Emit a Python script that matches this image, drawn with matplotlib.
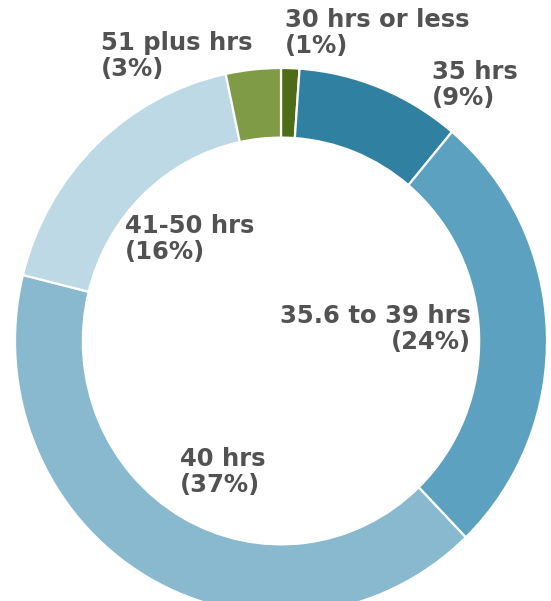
import matplotlib
matplotlib.use("Agg")
import matplotlib.pyplot as plt

# Hours worked per week (shares as printed on the chart)
categories = ["30 hrs or less", "35 hrs", "35.6 to 39 hrs", "40 hrs", "41-50 hrs", "51 plus hrs"]
shares = [1, 9, 24, 37, 16, 3]
colors = ["#4e6c18", "#2f80a1", "#5ca1bf", "#88b9cf", "#bdd9e6", "#7f9b45"]

# label placement in image pixels (x, y of top line) and alignment
label_pos = [(285, 8), (432, 60), (471, 304), (180, 447), (125, 214), (101, 31)]
label_ha = ["left", "left", "right", "left", "left", "left"]

W, H = 551, 601
fig = plt.figure(figsize=(W / 100, H / 100), dpi=100)

# donut is slightly taller than wide in the reference, so stretch the axes
left, right, top, bottom = 15, 547, 68, 614
ax = fig.add_axes([left / W, 1 - bottom / H, (right - left) / W, (bottom - top) / H])
ax.pie(shares, colors=colors, startangle=90, counterclock=False, radius=1.0,
       wedgeprops=dict(width=0.255, edgecolor="white", linewidth=1.6))
ax.set_aspect("auto")
ax.set_xlim(-1, 1)
ax.set_ylim(-1, 1)
ax.axis("off")

for cat, val, (px, py), ha in zip(categories, shares, label_pos, label_ha):
    fig.text(px / W, 1 - py / H, f"{cat}\n({val}%)", ha=ha, va="top",
             multialignment=ha, fontsize=17.5, fontweight="bold", color="#525252",
             family="DejaVu Sans", linespacing=1.12)

fig.savefig("out.png", dpi=100)
